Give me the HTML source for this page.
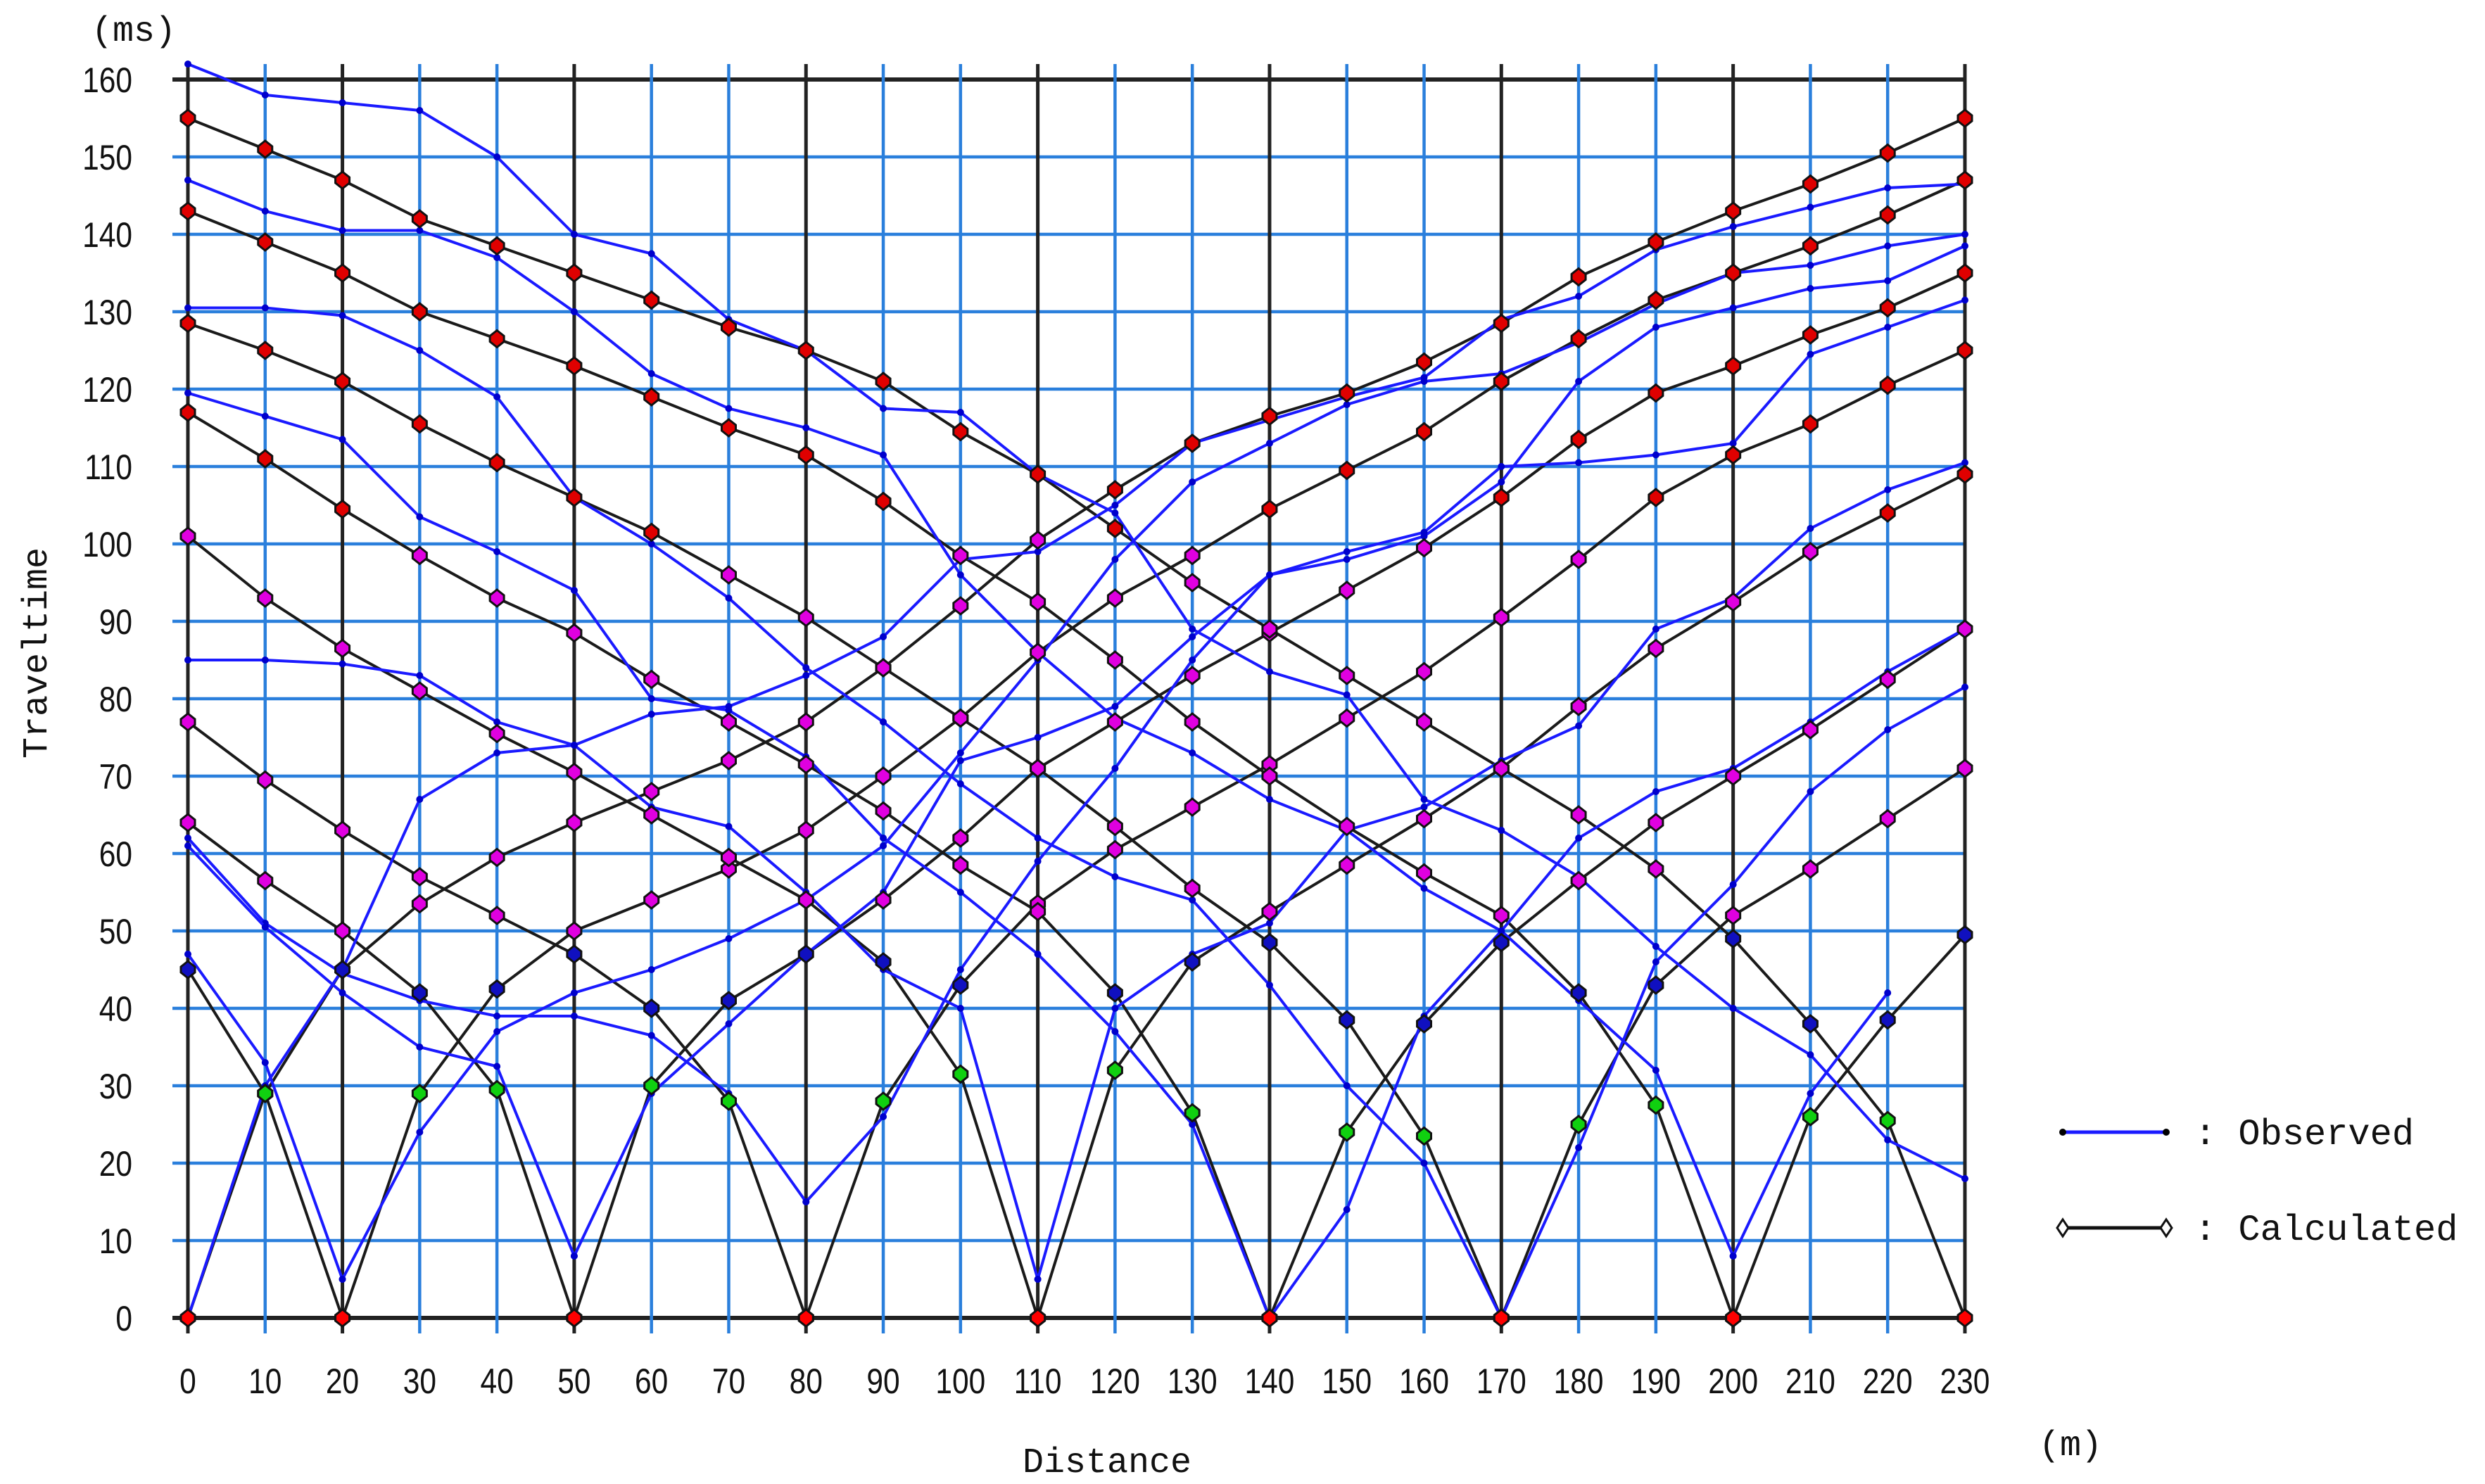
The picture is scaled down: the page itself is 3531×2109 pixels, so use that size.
<!DOCTYPE html>
<html><head><meta charset="utf-8"><style>
html,body{margin:0;padding:0;background:#fff;}
svg{display:block;}
</style></head><body>
<svg id="chart" width="3531" height="2109" viewBox="0 0 3531 2109" xmlns="http://www.w3.org/2000/svg">
<g id="grid"></g>
<g id="calc"></g>
<g id="obs"></g>
<g id="marks"></g>
<g id="axes"></g>
<text x="190" y="58" font-family="Liberation Mono, monospace" font-size="50" text-anchor="middle" fill="#111">(ms)</text>
<text transform="translate(66,928) rotate(-90)" font-family="Liberation Mono, monospace" font-size="50" text-anchor="middle" fill="#111">Traveltime</text>
<text x="1573" y="2092" font-family="Liberation Mono, monospace" font-size="50" text-anchor="middle" fill="#111">Distance</text>
<text x="2942" y="2068" font-family="Liberation Mono, monospace" font-size="50" text-anchor="middle" fill="#111">(m)</text>
<g>
 <g>
  <line x1="2931" y1="1609" x2="3078" y2="1609" stroke="#1a1aff" stroke-width="5"/>
  <circle cx="2931" cy="1609" r="5" fill="#000"/><circle cx="3078" cy="1609" r="5" fill="#000"/>
  <text x="3118" y="1626" font-family="Liberation Mono, monospace" font-size="52" fill="#111">: Observed</text>
 </g>
 <g>
  <line x1="2931" y1="1745" x2="3078" y2="1745" stroke="#111" stroke-width="5"/>
  <path d="M2931 1733 L2939 1745 L2931 1757 L2923 1745Z" fill="#fff" stroke="#111" stroke-width="3"/>
  <path d="M3078 1733 L3086 1745 L3078 1757 L3070 1745Z" fill="#fff" stroke="#111" stroke-width="3"/>
  <text x="3118" y="1762" font-family="Liberation Mono, monospace" font-size="52" fill="#111">: Calculated</text>
 </g>
</g>
</svg>
<script>
const xTicks=[0,10,20,30,40,50,60,70,80,90,100,110,120,130,140,150,160,170,180,190,200,210,220,230];
const yTicks=[0,10,20,30,40,50,60,70,80,90,100,110,120,130,140,150,160];
const shots=[0,20,50,80,110,140,170,200,230];
const calcShot0=[0,29,45,53.5,59.5,64,68,72,77,84,92,100.5,107,113,116.5,119.5,123.5,128.5,134.5,139,143,146.5,150.5,155];
const calcShot20L=[45,29,0];
const calcShot20R=[0,29,42.5,50,54,58,63,70,77.5,86,93,98.5,104.5,109.5,114.5,121,126.5,131.5,135,138.5,142.5,147];
const calcShot50L=[64,56.5,50,42,29.5,0];
const calcShot50R=[0,30,41,47,54,62,71,77,83,88.5,94,99.5,106,113.5,119.5,123,127,130.5,135];
const calcShot80L=[77,69.5,63,57,52,47,40,28,0];
const calcShot80R=[0,28,43,53.5,60.5,66,71.5,77.5,83.5,90.5,98,106,111.5,115.5,120.5,125];
const calcShot110L=[101,93,86.5,81,75.5,70.5,65,59.5,54,46,31.5,0];
const calcShot110R=[0,32,46,52.5,58.5,64.5,71,79,86.5,92.5,99,104,109];
const calcShot140L=[117,111,104.5,98.5,93,88.5,82.5,77,71.5,65.5,58.5,52.5,42,26.5,0];
const calcShot140R=[0,24,38,48.5,56.5,64,70,76,82.5,89];
const calcShot170L=[128.5,125,121,115.5,110.5,106,101.5,96,90.5,84,77.5,71,63.5,55.5,48.5,38.5,23.5,0];
const calcShot170R=[0,25,43,52,58,64.5,71];
const calcShot200L=[143,139,135,130,126.5,123,119,115,111.5,105.5,98.5,92.5,85,77,70,63.5,57.5,52,42,27.5,0];
const calcShot200R=[0,26,38.5,49.5];
const calcShot230=[155,151,147,142,138.5,135,131.5,128,125,121,114.5,109,102,95,89,83,77,71,65,58,49,38,25.5,0];
const calcCurves=[[0,calcShot0],[0,calcShot20L],[20,calcShot20R],[0,calcShot50L],[50,calcShot50R],[0,calcShot80L],[80,calcShot80R],[0,calcShot110L],[110,calcShot110R],[0,calcShot140L],[140,calcShot140R],[0,calcShot170L],[170,calcShot170R],[0,calcShot200L],[200,calcShot200R],[0,calcShot230]];
const obsShot230=[162,158,157,156,150,140,137.5,129,125,117.5,117,109,104,89,83.5,80.5,67,63,57,48,40,34,23,18];
const obsShot200=[147,143,140.5,140.5,137,130,122,117.5,115,111.5,96,86,77.5,73,67,63,55.5,50,41,32,8];
const obsShot170=[130.5,130.5,129.5,125,119,106,100,93,84,77,69,62,57,54,43,30,20,0];
const obsShot140=[119.5,116.5,113.5,103.5,99,94,80,78.5,72.5,62,55,47,37,25,0];
const obsShot110=[85,85,84.5,83,77,74,66,63.5,55,45,40,5];
const obsShot80=[62,51,44.5,41,39,39,36.5,29,15];
const obsShot50=[61,50.5,42,35,32.5,8];
const obsShot20=[47,33,5];
const obsShot0=[0,30,45,67,73,74,78,79,83,88,98,99,105,113,116,119,121.5,129,132,138,141,143.5,146,146.5];
const obsShot20R=[5,24,37,42,45,49,54,61,73,85,98,108,113,118,121,122,126,131,135,136,138.5,140];
const obsShot50R=[8,29,38,47,55,72,75,79,88,96,98,101,108,121,128,130.5,133,134,138.5];
const obsShot80R=[15,26,45,59,71,85,96,99,101.5,110,110.5,111.5,113,124.5,128,131.5];
const obsShot110R=[5,40,47,51,63,66,72,76.5,89,93,102,107,110.5];
const obsShot140R=[0,14,39,50,62,68,71,77,83.5,89];
const obsShot170R=[0,22,46,56,68,76,81.5];
const obsShot200R=[8,29,42];
const obsCurves=[[0,obsShot230],[0,obsShot200],[0,obsShot170],[0,obsShot140],[0,obsShot110],[0,obsShot80],[0,obsShot50],[0,obsShot20],[0,obsShot0],[20,obsShot20R],[50,obsShot50R],[80,obsShot80R],[110,obsShot110R],[140,obsShot140R],[170,obsShot170R],[200,obsShot200R]];

const NS='http://www.w3.org/2000/svg';
const X0=267,X1=2792,Y0=1873,Y1=113;
function sx(v){return X0+(v-0)/230*(X1-X0);}
function sy(v){return Y0-(v-0)/160*(Y0-Y1);}
function mk(tag,attrs,parent){const e=document.createElementNS(NS,tag);for(const k in attrs)e.setAttribute(k,attrs[k]);parent.appendChild(e);return e;}
const grid=document.getElementById('grid'),axes=document.getElementById('axes');
yTicks.forEach(v=>{
  const black=(v===0||v===160);
  const l=mk('line',{x1:X0-22,x2:X1,y1:sy(v),y2:sy(v),stroke:black?'#222':'#2a7fdc','stroke-width':black?6:4.5},grid);
  
  
  const t=mk('text',{x:188,y:sy(v)+18,'text-anchor':'end','font-family':'Liberation Sans, sans-serif','font-size':50,fill:'#111',transform:`translate(188,0) scale(0.85,1) translate(-188,0)`},axes);
  t.textContent=v;
  
  
});
xTicks.forEach(v=>{
  const black=shots.includes(v);
  const l=mk('line',{x1:sx(v),x2:sx(v),y1:Y1-22,y2:Y0+22,stroke:black?'#222':'#2a7fdc','stroke-width':black?5:4.5},grid);
  
  
  const t=mk('text',{x:sx(v),y:1980,'text-anchor':'middle','font-family':'Liberation Sans, sans-serif','font-size':50,fill:'#111',transform:`translate(${sx(v)},0) scale(0.85,1) translate(${-sx(v)},0)`},axes);
  t.textContent=v;
  
  
});
function pts(start,vals){return vals.map((v,i)=>[sx(start+i*10),sy(v)]);}
const calcG=document.getElementById('calc'),obsG=document.getElementById('obs'),marks=document.getElementById('marks');
calcCurves.forEach(([s,vals])=>{
  const p=pts(s,vals);
  const pl=mk('polyline',{points:p.map(q=>q.join(',')).join(' '),fill:'none',stroke:'#1a1a1a','stroke-width':4},calcG);
  
  
  vals.forEach((v,i)=>{
    const x=sx(s+i*10),y=sy(v);
    let c=v<=0.5?'#ff0000':v>101?'#e00000':v>=50?'#e000e0':v>35?'#1010c0':'#10d010';
    const d=mk('path',{d:`M${x} ${y-12} L${x+10} ${y-4} L${x+10} ${y+4} L${x} ${y+12} L${x-10} ${y+4} L${x-10} ${y-4}Z`,fill:c,stroke:'#111','stroke-width':3},marks);
    
    
  });
});
obsCurves.forEach(([s,vals])=>{
  const p=pts(s,vals);
  const pl=mk('polyline',{points:p.map(q=>q.join(',')).join(' '),fill:'none',stroke:'#1a1aff','stroke-width':4},obsG);
  
  
  p.forEach(q=>{
    const c=mk('circle',{cx:q[0],cy:q[1],r:5,fill:'#0000cc'},obsG);
    
    
  });
});
</script>
</body></html>
